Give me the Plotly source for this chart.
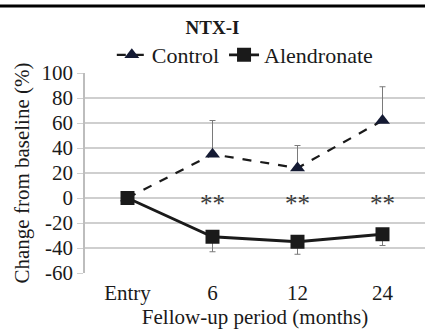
import plotly.graph_objects as go

# Follow-up time points and NTX-I change from baseline (%)
periods = ["Entry", "6", "12", "24"]
control_mean = [0, 35, 24, 62]
control_err_up = [0, 27, 18, 27]
alendronate_mean = [0, -31, -35, -29]
alendronate_err_down = [0, 12, 10, 9]
sig_periods = ["6", "12", "24"]
sig_labels = ["**", "**", "**"]
sig_level = [-6, -6, -6]
y_ticks = [100, 80, 60, 40, 20, 0, -20, -40, -60]

serif = "Liberation Serif"
ink = "#1a1a1a"

fig = go.Figure()

fig.add_trace(go.Scatter(
    x=periods, y=control_mean, name="Control",
    mode="lines+markers",
    line=dict(color=ink, width=2.2, dash="dash"),
    marker=dict(symbol="triangle-up", size=13, color="#141a33"),
    error_y=dict(type="data", array=control_err_up, arrayminus=[0] * 4,
                 symmetric=False, color="#7a7a7a", thickness=1, width=3),
))

fig.add_trace(go.Scatter(
    x=periods, y=alendronate_mean, name="Alendronate",
    mode="lines+markers",
    line=dict(color=ink, width=2.8),
    marker=dict(symbol="square", size=14, color=ink),
    error_y=dict(type="data", array=[0] * 4, arrayminus=alendronate_err_down,
                 symmetric=False, color="#7a7a7a", thickness=1, width=3),
))

fig.add_trace(go.Scatter(
    x=sig_periods, y=sig_level, mode="text", text=sig_labels,
    textfont=dict(family=serif, size=25, color="#3a3a3a"),
    showlegend=False, hoverinfo="skip",
))

fig.update_layout(
    width=425, height=336,
    margin=dict(l=85, r=0, t=73, b=63),
    paper_bgcolor="white", plot_bgcolor="white",
    font=dict(family=serif, size=20, color=ink),
    title=dict(text="<b>NTX-I</b>", x=0.5, xref="container", y=0.92, yref="container",
               xanchor="center", yanchor="middle",
               font=dict(family=serif, size=19, color=ink)),
    legend=dict(orientation="h", x=0.47, xanchor="center", y=1.09, yanchor="middle",
                font=dict(family=serif, size=22, color=ink),
                itemwidth=30, tracegroupgap=0, bgcolor="rgba(0,0,0,0)"),
    showlegend=True,
)

fig.update_xaxes(
    type="category", range=[-0.5, 3.5],
    showgrid=False, zeroline=False, showline=False,
    ticks="outside", ticklen=1, tickcolor="rgba(0,0,0,0)",
    tickfont=dict(family=serif, size=21, color=ink),
    title=dict(text="Fellow-up period (months)", font=dict(family=serif, size=21, color=ink),
               standoff=1),
)

fig.update_yaxes(
    range=[-60, 100], tickvals=y_ticks, ticktext=[str(v) for v in y_ticks],
    showgrid=True, gridcolor="#cfcfcf", gridwidth=1.5,
    zeroline=False, showline=True, linecolor="#bdbdbd", linewidth=1.5,
    ticks="outside", ticklen=6, tickcolor="#cfcfcf",
    tickfont=dict(family=serif, size=21, color=ink),
    title=dict(text="Change from baseline (%)", font=dict(family=serif, size=21, color=ink),
               standoff=6),
)

# heavy rule across the top of the panel
fig.add_shape(type="line", xref="paper", yref="paper",
              x0=-0.3, x1=1.0, y0=1.335, y1=1.335,
              line=dict(color="black", width=3))

fig.write_html("out.html")
